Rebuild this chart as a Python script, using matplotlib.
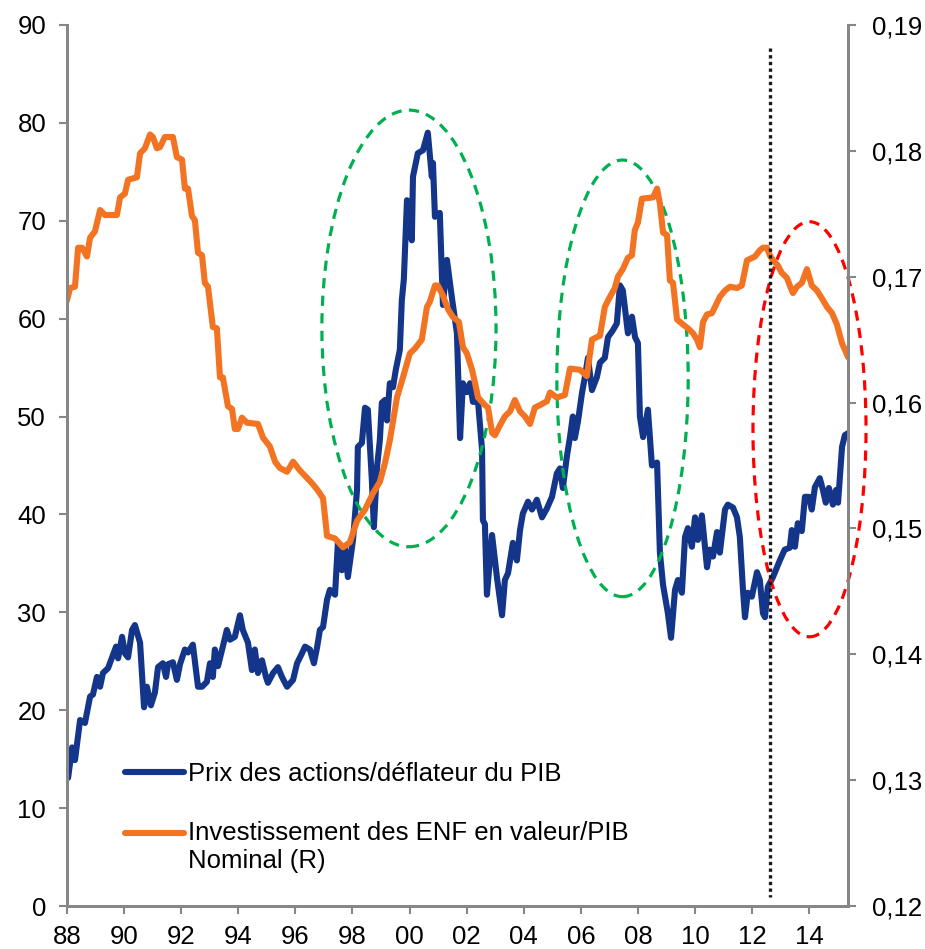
"""
Stock prices vs. NFC investment share of GDP, with highlighted episodes.
"""

import matplotlib

matplotlib.use("Agg")
import matplotlib.pyplot as plt
from matplotlib.patches import Ellipse
from matplotlib.ticker import FuncFormatter

plt.rcParams["font.family"] = ["Liberation Sans", "DejaVu Sans"]

# Prix des actions / déflateur du PIB (left axis)
equity_years = [
    1988.04, 1988.18, 1988.28, 1988.46, 1988.63, 1988.81, 1988.91, 1989.05, 1989.16, 1989.26,
    1989.44, 1989.58, 1989.72, 1989.79, 1989.93, 1990.03, 1990.14, 1990.28, 1990.38, 1990.56,
    1990.70, 1990.80, 1990.94, 1991.08, 1991.19, 1991.36, 1991.47, 1991.54, 1991.71, 1991.85,
    1991.96, 1992.13, 1992.24, 1992.41, 1992.59, 1992.73, 1992.90, 1993.01, 1993.11, 1993.18,
    1993.29, 1993.46, 1993.60, 1993.71, 1993.88, 1994.06, 1994.16, 1994.34, 1994.48, 1994.58,
    1994.69, 1994.83, 1994.97, 1995.04, 1995.22, 1995.39, 1995.53, 1995.71, 1995.92, 1996.06,
    1996.23, 1996.34, 1996.51, 1996.65, 1996.76, 1996.86, 1996.97, 1997.11, 1997.21, 1997.39,
    1997.49, 1997.63, 1997.74, 1997.84, 1998.02, 1998.16, 1998.19, 1998.33, 1998.44, 1998.54,
    1998.68, 1998.75, 1998.86, 1998.96, 1999.03, 1999.14, 1999.21, 1999.31, 1999.42, 1999.52,
    1999.66, 1999.73, 1999.80, 1999.91, 2000.08, 2000.12, 2000.29, 2000.47, 2000.64, 2000.78,
    2000.82, 2000.89, 2001.06, 2001.17, 2001.31, 2001.49, 2001.66, 2001.77, 2001.87, 2002.01,
    2002.12, 2002.22, 2002.40, 2002.54, 2002.57, 2002.64, 2002.71, 2002.89, 2003.06, 2003.24,
    2003.34, 2003.45, 2003.62, 2003.76, 2003.87, 2003.97, 2004.15, 2004.29, 2004.46, 2004.64,
    2004.81, 2004.99, 2005.16, 2005.27, 2005.37, 2005.51, 2005.62, 2005.72, 2005.79, 2005.90,
    2006.04, 2006.14, 2006.25, 2006.39, 2006.56, 2006.67, 2006.84, 2006.95, 2007.12, 2007.26,
    2007.37, 2007.47, 2007.58, 2007.65, 2007.79, 2007.90, 2008.00, 2008.07, 2008.18, 2008.35,
    2008.49, 2008.67, 2008.77, 2008.88, 2009.05, 2009.16, 2009.30, 2009.40, 2009.54, 2009.65,
    2009.75, 2009.89, 2010.00, 2010.10, 2010.24, 2010.42, 2010.52, 2010.63, 2010.77, 2010.87,
    2011.05, 2011.15, 2011.33, 2011.47, 2011.57, 2011.68, 2011.75, 2011.85, 2011.99, 2012.17,
    2012.27, 2012.38, 2012.45, 2012.55, 2012.73, 2012.97, 2013.14, 2013.32, 2013.39, 2013.50,
    2013.60, 2013.74, 2013.85, 2013.99, 2014.09, 2014.20, 2014.37, 2014.48, 2014.58, 2014.69,
    2014.83, 2014.94, 2015.01, 2015.15, 2015.25, 2015.36,
]
equity_values = [
    13.1, 16.2, 14.9, 19.0, 18.7, 21.4, 21.6, 23.4, 22.4, 23.8,
    24.3, 25.4, 26.5, 25.3, 27.5, 25.8, 25.4, 28.2, 28.7, 26.9,
    20.3, 22.4, 20.5, 21.8, 24.4, 24.8, 23.4, 24.7, 24.9, 23.1,
    24.7, 26.2, 25.9, 26.7, 22.4, 22.4, 22.9, 24.8, 23.4, 26.2,
    24.5, 26.5, 28.2, 27.2, 27.5, 29.7, 28.2, 26.9, 24.1, 26.2,
    23.8, 25.1, 23.4, 22.8, 23.8, 24.4, 23.4, 22.4, 23.1, 24.8,
    25.8, 26.5, 26.2, 24.8, 26.4, 28.2, 28.5, 31.3, 32.3, 31.8,
    37.1, 34.3, 36.7, 33.6, 37.4, 42.5, 46.9, 47.3, 50.9, 50.7,
    43.5, 38.7, 44.8, 47.6, 51.4, 51.7, 49.6, 53.4, 53.0, 54.8,
    56.8, 61.9, 64.0, 72.1, 68.0, 74.5, 76.9, 77.2, 79.0, 74.5,
    75.9, 70.4, 70.8, 61.4, 66.0, 62.0, 58.5, 47.8, 53.4, 52.5,
    53.4, 51.5, 51.5, 46.6, 39.4, 39.0, 31.8, 37.9, 33.6, 29.7,
    33.3, 34.0, 37.1, 35.3, 38.4, 40.1, 41.3, 40.5, 41.5, 39.7,
    40.6, 41.8, 44.2, 44.7, 42.7, 45.9, 47.9, 50.0, 47.8, 49.5,
    52.4, 54.0, 56.0, 52.7, 54.0, 55.5, 56.0, 58.1, 58.8, 59.5,
    63.4, 62.9, 60.2, 58.5, 60.2, 58.1, 57.5, 50.0, 47.9, 50.7,
    45.0, 45.3, 36.1, 32.8, 29.9, 27.4, 32.3, 33.3, 32.0, 37.7,
    38.6, 36.7, 39.7, 37.4, 39.9, 34.6, 36.4, 35.7, 38.2, 36.1,
    40.5, 41.0, 40.7, 39.7, 37.7, 32.3, 29.5, 32.0, 31.6, 34.1,
    33.3, 29.9, 29.5, 32.6, 33.6, 35.3, 36.4, 36.6, 38.4, 36.7,
    39.1, 38.3, 41.8, 41.8, 40.5, 42.8, 43.7, 42.5, 41.2, 42.7,
    41.0, 42.5, 41.2, 46.9, 48.1, 48.3,
]

# Investissement des ENF en valeur / PIB nominal (right axis)
invest_years = [
    1988.00, 1988.11, 1988.28, 1988.39, 1988.53, 1988.70, 1988.81, 1988.98, 1989.16, 1989.33,
    1989.75, 1989.86, 1990.03, 1990.14, 1990.45, 1990.56, 1990.73, 1990.91, 1991.01, 1991.15,
    1991.26, 1991.43, 1991.71, 1991.85, 1992.03, 1992.13, 1992.24, 1992.38, 1992.48, 1992.59,
    1992.73, 1992.83, 1992.94, 1993.11, 1993.25, 1993.36, 1993.46, 1993.64, 1993.78, 1993.88,
    1993.99, 1994.13, 1994.30, 1994.69, 1994.87, 1995.11, 1995.29, 1995.46, 1995.71, 1995.92,
    1996.16, 1996.41, 1996.58, 1996.76, 1996.97, 1997.11, 1997.39, 1997.67, 1997.91, 1998.16,
    1998.44, 1998.72, 1998.96, 1999.14, 1999.31, 1999.56, 1999.77, 2000.01, 2000.19, 2000.43,
    2000.61, 2000.71, 2000.89, 2000.99, 2001.17, 2001.35, 2001.52, 2001.73, 2001.87, 2002.01,
    2002.19, 2002.29, 2002.40, 2002.64, 2002.75, 2002.89, 2002.99, 2003.17, 2003.34, 2003.52,
    2003.69, 2003.87, 2004.04, 2004.22, 2004.39, 2004.57, 2004.81, 2004.92, 2005.16, 2005.44,
    2005.62, 2005.97, 2006.21, 2006.39, 2006.56, 2006.67, 2006.84, 2007.02, 2007.19, 2007.30,
    2007.47, 2007.65, 2007.79, 2007.89, 2008.00, 2008.14, 2008.53, 2008.67, 2008.77, 2008.88,
    2009.02, 2009.12, 2009.23, 2009.37, 2009.58, 2009.75, 2009.93, 2010.07, 2010.17, 2010.28,
    2010.42, 2010.59, 2010.70, 2010.87, 2011.05, 2011.22, 2011.47, 2011.64, 2011.82, 2012.10,
    2012.27, 2012.38, 2012.52, 2012.62, 2012.73, 2012.90, 2013.04, 2013.22, 2013.32, 2013.43,
    2013.57, 2013.74, 2013.92, 2014.09, 2014.27, 2014.44, 2014.62, 2014.80, 2014.97, 2015.15,
    2015.25, 2015.36,
]
invest_values = [
    0.1681, 0.1691, 0.1692, 0.1723, 0.1723, 0.1716, 0.1731, 0.1736, 0.1753, 0.1749,
    0.1749, 0.1763, 0.1766, 0.1777, 0.1779, 0.1798, 0.1802, 0.1813, 0.1811, 0.1802,
    0.1803, 0.1811, 0.1811, 0.1795, 0.1793, 0.1770, 0.1770, 0.1748, 0.1745, 0.1719,
    0.1717, 0.1695, 0.1692, 0.1660, 0.1659, 0.1620, 0.1620, 0.1597, 0.1595, 0.1579,
    0.1579, 0.1588, 0.1584, 0.1583, 0.1572, 0.1565, 0.1553, 0.1548, 0.1545, 0.1553,
    0.1546, 0.1540, 0.1536, 0.1531, 0.1524, 0.1494, 0.1492, 0.1485, 0.1489, 0.1506,
    0.1515, 0.1528, 0.1537, 0.1552, 0.1570, 0.1604, 0.1620, 0.1639, 0.1643, 0.1650,
    0.1676, 0.1680, 0.1693, 0.1693, 0.1685, 0.1674, 0.1668, 0.1664, 0.1644, 0.1639,
    0.1626, 0.1616, 0.1604, 0.1598, 0.1596, 0.1576, 0.1574, 0.1582, 0.1589, 0.1593,
    0.1602, 0.1593, 0.1589, 0.1583, 0.1596, 0.1598, 0.1601, 0.1608, 0.1604, 0.1606,
    0.1627, 0.1626, 0.1621, 0.1650, 0.1652, 0.1653, 0.1676, 0.1684, 0.1691, 0.1700,
    0.1706, 0.1715, 0.1717, 0.1737, 0.1743, 0.1762, 0.1763, 0.1770, 0.1758, 0.1735,
    0.1733, 0.1697, 0.1695, 0.1666, 0.1662, 0.1659, 0.1655, 0.1650, 0.1644, 0.1664,
    0.1670, 0.1671, 0.1676, 0.1684, 0.1689, 0.1692, 0.1691, 0.1693, 0.1713, 0.1716,
    0.1721, 0.1723, 0.1723, 0.1717, 0.1713, 0.1709, 0.1703, 0.1699, 0.1693, 0.1687,
    0.1692, 0.1695, 0.1706, 0.1693, 0.1689, 0.1683, 0.1676, 0.1671, 0.1662, 0.1647,
    0.1642, 0.1636,
]

year_ticks = list(range(1988, 2015, 2))
year_labels = [f"{y % 100:02d}" for y in year_ticks]

# highlighted episodes: (centre year, centre value on left axis, width in years, height)
episodes_green = [(1999.98, 59.0, 6.1, 44.6), (2007.46, 53.9, 4.6, 44.6)]
episode_red = (2014.01, 48.7, 3.96, 42.4)
cutoff_year = 2012.62

BLUE = "#14368a"
ORANGE = "#f27422"
GREEN = "#00b050"
RED = "#ff0000"
SPINE = "#868686"
FS = 18.5

fig = plt.figure(figsize=(9.25, 9.49), dpi=100)
ax = fig.add_axes([0.0724, 0.0453, 0.8444, 0.9284])
ax2 = ax.twinx()

(line_eq,) = ax.plot(equity_years, equity_values, color=BLUE, lw=4.4,
                     solid_joinstyle="round", solid_capstyle="round")
(line_inv,) = ax2.plot(invest_years, invest_values, color=ORANGE, lw=4.4,
                       solid_joinstyle="round", solid_capstyle="round")

dash = (0, (3.2, 2.3))
for cx, cy, w, h in episodes_green:
    ax2.add_patch(Ellipse((cx, cy), w, h, transform=ax.transData, fill=False,
                          edgecolor=GREEN, lw=2.3, linestyle=dash, clip_on=False))
cx, cy, w, h = episode_red
ax2.add_patch(Ellipse((cx, cy), w, h, transform=ax.transData, fill=False,
                      edgecolor=RED, lw=2.3, linestyle=dash, clip_on=False))
ax2.plot([cutoff_year, cutoff_year], [87.6, 0.9], transform=ax.transData,
         color="#1a1a1a", lw=2.4, linestyle=(0, (1, 1)), clip_on=False)

ax.set_xlim(1988, 2015.36)
ax.set_ylim(0, 90)
ax2.set_ylim(0.12, 0.19)
ax.set_xticks(year_ticks)
ax.set_xticklabels(year_labels)
ax.set_yticks(range(0, 91, 10))
ax2.set_yticks([0.12 + 0.01 * i for i in range(8)])
ax2.yaxis.set_major_formatter(FuncFormatter(lambda v, _: f"{v:.2f}".replace(".", ",")))

for a in (ax, ax2):
    a.spines["top"].set_visible(False)
    for side in ("left", "right", "bottom"):
        a.spines[side].set_color(SPINE)
        a.spines[side].set_linewidth(2)
    a.tick_params(axis="both", colors=SPINE, labelcolor="black", labelsize=FS,
                  length=6, width=1.5, direction="out")
ax.tick_params(axis="y", pad=9)
ax.tick_params(axis="x", pad=8)
ax2.tick_params(axis="y", pad=11)

leg = ax2.legend([line_eq, line_inv],
                 ["Prix des actions/déflateur du PIB",
                  "Investissement des ENF en valeur/PIB\nNominal (R)"],
                 loc="upper left", bbox_to_anchor=(0.0745, 0.164), frameon=False,
                 fontsize=FS, handlelength=2.3, handletextpad=0.15, labelspacing=1.4,
                 borderpad=0, borderaxespad=0)
# put the orange key next to the first line of its two-line label
orange_key = leg.legend_handles[1]
orange_key.set_ydata([y + 10.8 for y in orange_key.get_ydata()])

fig.savefig("out.png", dpi=100)
